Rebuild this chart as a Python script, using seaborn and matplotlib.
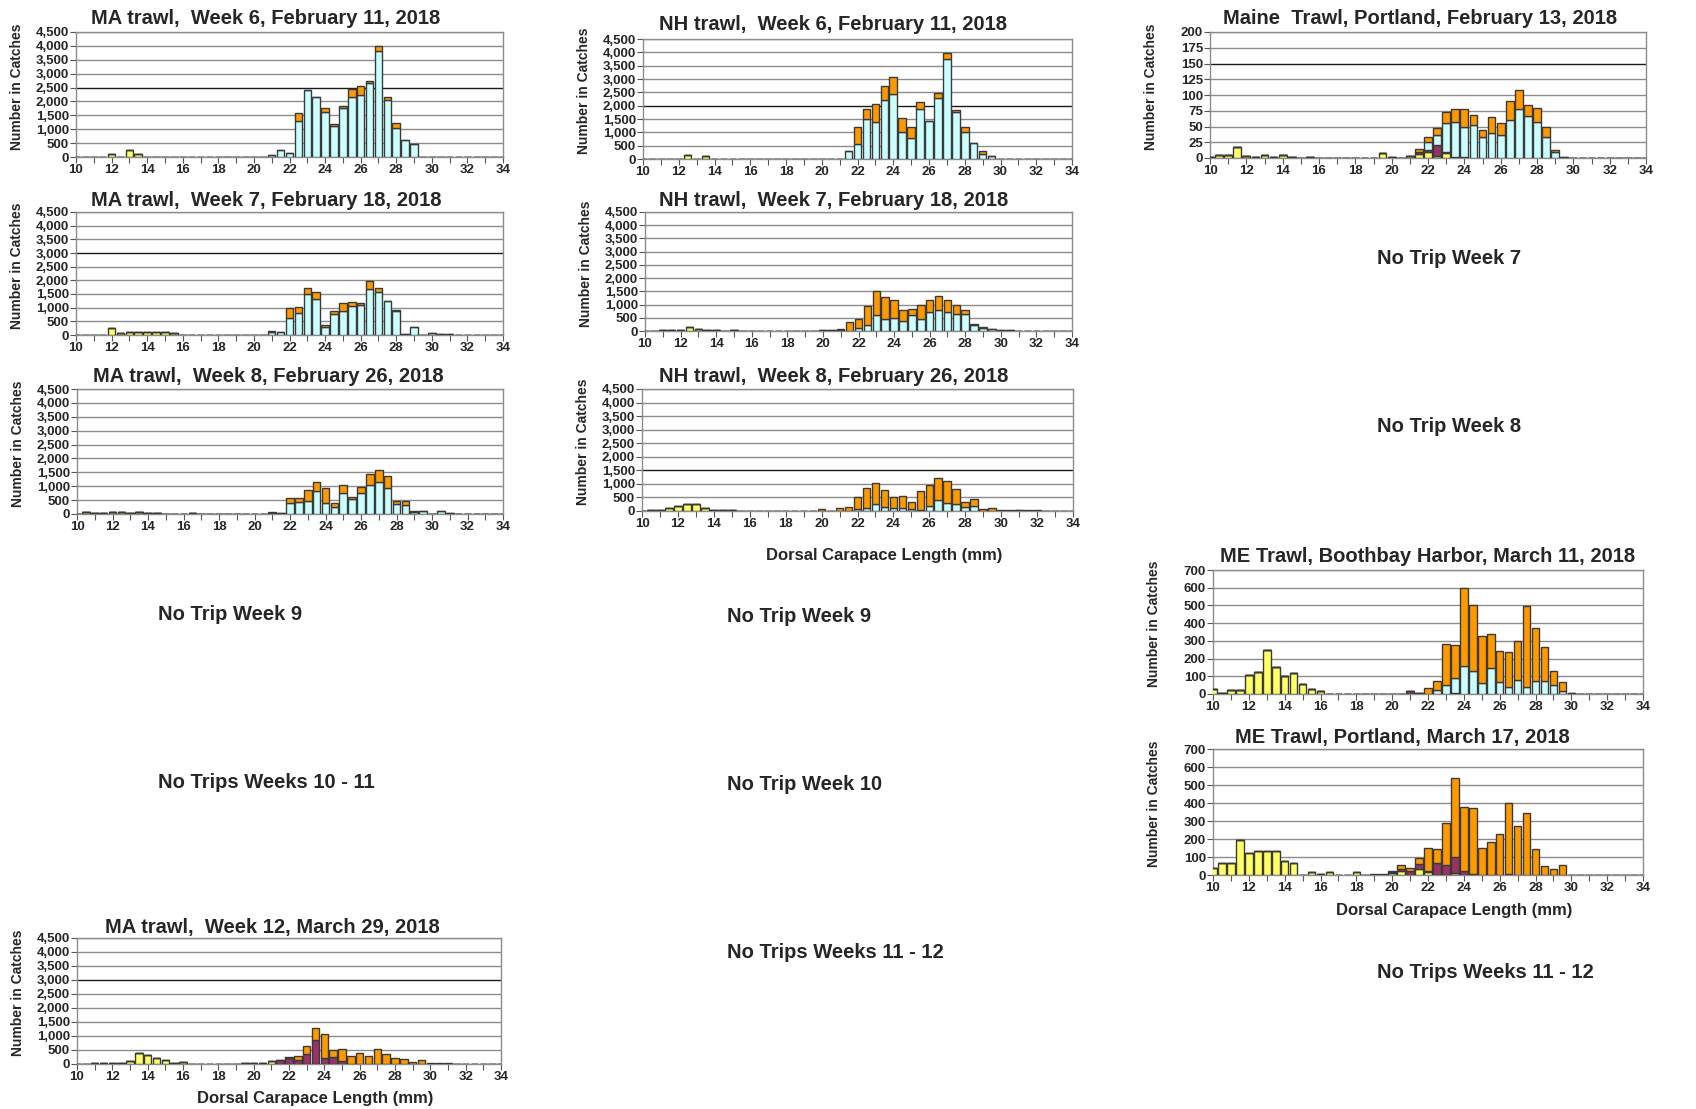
import numpy as np
import pandas as pd
import matplotlib
matplotlib.use("Agg")
import matplotlib.pyplot as plt
import seaborn as sns
from matplotlib.ticker import MultipleLocator, FuncFormatter

sns.set_theme(style="white")
plt.rcParams['font.family'] = ['Liberation Sans', 'DejaVu Sans']
plt.rcParams['font.weight'] = 'bold'

# ---------------- data: length bins (mm) ----------------
lengths = [10, 10.5, 11, 11.5, 12, 12.5, 13, 13.5, 14, 14.5,
           15, 15.5, 16, 16.5, 17, 17.5, 18, 18.5, 19, 19.5,
           20, 20.5, 21, 21.5, 22, 22.5, 23, 23.5, 24, 24.5,
           25, 25.5, 26, 26.5, 27, 27.5, 28, 28.5, 29, 29.5,
           30, 30.5, 31, 31.5, 32, 32.5, 33, 33.5, 34]

Z10 = [0] * 10
Z9 = [0] * 9

# MA trawl week 6
ma6_juv = [0, 0, 0, 0, 100, 0, 270, 100, 0, 0] + Z10 + Z10 + Z10 + Z9
ma6_trans = Z10 + Z10 + Z10 + Z10 + Z9
ma6_male = Z10 + Z10 + [0, 0, 80, 270, 150, 1300, 2400, 2150, 1620, 1130] + \
    [1760, 2150, 2250, 2650, 3800, 2050, 1050, 620, 470, 0] + Z9
ma6_fem = Z10 + Z10 + [0, 0, 0, 0, 0, 300, 0, 0, 130, 40] + \
    [90, 300, 300, 100, 200, 100, 180, 0, 0, 0] + Z9

# NH trawl week 6
nh6_juv = [0, 0, 0, 0, 0, 150, 0, 100, 0, 0] + Z10 + Z10 + Z10 + Z9
nh6_trans = Z10 + Z10 + Z10 + Z10 + Z9
nh6_male = Z10 + Z10 + [0, 0, 0, 290, 550, 1500, 1400, 2220, 2450, 1000] + \
    [780, 1880, 1420, 2300, 3750, 1750, 1000, 600, 200, 100] + Z9
nh6_fem = Z10 + Z10 + [0, 0, 0, 0, 650, 380, 670, 530, 630, 520] + \
    [420, 270, 0, 180, 230, 80, 200, 0, 100, 0] + Z9

# Maine trawl Portland Feb 13
mep_juv = [2, 5, 4, 18, 3, 2, 5, 2, 5, 2] + [0, 1, 0, 0, 0, 0, 0, 0, 0, 8] + \
    [0, 0, 3, 7, 10, 3, 8, 0, 0, 0] + Z10 + Z9
mep_trans = Z10 + Z10 + [2, 0, 0, 2, 3, 17, 2, 1, 2, 0] + Z10 + Z9
mep_male = Z10 + Z10 + [0, 0, 0, 0, 12, 17, 45, 56, 48, 53] + \
    [33, 40, 37, 60, 77, 67, 57, 33, 10, 1] + Z9
mep_fem = Z10 + Z10 + [0, 0, 0, 6, 8, 11, 18, 20, 27, 15] + \
    [12, 25, 18, 30, 31, 17, 22, 17, 2, 0] + Z9

# MA trawl week 7
ma7_juv = [0, 0, 0, 0, 270, 80, 110, 110, 110, 110] + \
    [110, 80, 0, 0, 0, 0, 0, 0, 0, 0] + Z10 + Z10 + Z9
ma7_trans = Z10 + Z10 + Z10 + Z10 + Z9
ma7_male = Z10 + Z10 + [0, 0, 100, 100, 620, 800, 1500, 1300, 300, 770] + \
    [870, 1050, 1080, 1680, 1580, 1230, 870, 30, 280, 0] + \
    [90, 30, 30, 0, 0, 0, 0, 0, 0]
ma7_fem = Z10 + Z10 + [0, 0, 30, 0, 360, 230, 220, 280, 60, 90] + \
    [300, 170, 90, 300, 140, 30, 30, 0, 30, 0] + Z9

# NH trawl week 7
nh7_juv = [0, 0, 30, 30, 30, 150, 90, 30, 30, 0] + \
    [30, 0, 0, 0, 0, 0, 0, 0, 0, 0] + Z10 + Z10 + Z9
nh7_trans = Z10 + Z10 + Z10 + Z10 + Z9
nh7_male = Z10 + Z10 + [30, 30, 20, 0, 130, 220, 600, 450, 500, 380] + \
    [600, 450, 700, 800, 700, 650, 650, 220, 130, 70] + \
    [30, 30, 0, 0, 0, 0, 0, 0, 0]
nh7_fem = Z10 + Z10 + [0, 0, 60, 330, 340, 730, 900, 820, 670, 420] + \
    [230, 550, 470, 520, 470, 350, 130, 50, 40, 0] + Z9

# MA trawl week 8
ma8_juv = [0, 80, 40, 40, 80, 80, 40, 80, 40, 40] + \
    [0, 0, 0, 30, 0, 0, 0, 0, 0, 0] + Z10 + Z10 + Z9
ma8_trans = Z10 + Z10 + [0, 0, 40, 0, 0, 0, 0, 0, 0, 0] + Z10 + Z9
ma8_male = Z10 + Z10 + [0, 0, 0, 30, 400, 450, 480, 830, 400, 250] + \
    [750, 550, 750, 1050, 1150, 950, 370, 320, 80, 100] + \
    [0, 100, 40, 0, 0, 0, 0, 0, 0]
ma8_fem = Z10 + Z10 + [0, 0, 40, 0, 180, 130, 400, 340, 520, 150] + \
    [300, 70, 220, 400, 450, 420, 100, 150, 40, 0] + Z9

# NH trawl week 8
nh8_juv = [0, 50, 50, 100, 200, 250, 250, 100, 50, 50] + \
    [50, 0, 0, 0, 0, 0, 0, 0, 0, 0] + Z10 + Z10 + Z9
nh8_trans = Z10 + Z10 + Z10 + Z10 + Z9
nh8_male = Z10 + Z10 + [0, 0, 0, 0, 80, 100, 250, 150, 100, 120] + \
    [80, 50, 200, 400, 300, 250, 150, 200, 0, 0] + \
    [0, 0, 50, 0, 0, 0, 0, 0, 0]
nh8_fem = Z10 + Z10 + [60, 0, 100, 150, 420, 760, 790, 620, 430, 420] + \
    [270, 670, 750, 820, 790, 560, 200, 250, 60, 100] + \
    [50, 50, 0, 50, 50, 0, 0, 0, 0]

# ME trawl Boothbay Harbor March 11
meb_juv = [30, 5, 20, 20, 110, 125, 250, 155, 100, 120] + \
    [55, 30, 15, 0, 0, 0, 0, 0, 0, 0] + Z10 + Z10 + Z9
meb_trans = Z10 + Z10 + [0, 0, 15, 5, 0, 0, 0, 5, 0, 0] + Z10 + Z9
meb_male = Z10 + Z10 + [0, 0, 0, 0, 0, 20, 50, 85, 160, 130] + \
    [60, 145, 70, 40, 80, 40, 75, 75, 50, 15] + \
    [5, 0, 0, 0, 0, 0, 0, 0, 0]
meb_fem = Z10 + Z10 + [0, 0, 0, 0, 35, 55, 235, 185, 440, 370] + \
    [265, 195, 175, 195, 220, 455, 295, 190, 80, 55] + Z9

# ME trawl Portland March 17
mep2_juv = [40, 65, 65, 195, 125, 135, 135, 135, 80, 65] + \
    [0, 15, 8, 15, 0, 0, 15, 0, 0, 0] + \
    [12, 20, 0, 35, 15, 0, 0, 10, 0, 0] + Z10 + Z9
mep2_trans = Z10 + Z10 + [5, 15, 20, 25, 5, 65, 55, 90, 20, 5] + \
    [0, 0, 0, 5, 0, 0, 0, 0, 0, 0] + Z9
mep2_male = Z10 + Z10 + Z10 + Z10 + Z9
mep2_fem = Z10 + [0, 0, 0, 0, 0, 0, 0, 0, 5, 5] + \
    [5, 20, 20, 35, 130, 80, 235, 440, 360, 365] + \
    [150, 185, 230, 395, 270, 345, 145, 50, 35, 55] + Z9

# MA trawl week 12
ma12_juv = [0, 0, 30, 30, 30, 30, 110, 380, 330, 200] + \
    [150, 40, 70, 0, 0, 0, 0, 0, 0, 30] + \
    [30, 30, 100, 0, 0, 0, 0, 0, 0, 0] + Z10 + Z9
ma12_trans = Z10 + Z10 + [0, 0, 0, 150, 200, 150, 370, 850, 200, 250] + \
    [120, 0, 0, 0, 0, 0, 0, 0, 0, 0] + Z9
ma12_male = Z10 + Z10 + Z10 + Z10 + Z9
ma12_fem = Z10 + Z10 + [0, 0, 0, 0, 50, 140, 270, 450, 880, 250] + \
    [430, 300, 410, 300, 550, 370, 200, 170, 80, 160] + \
    [40, 40, 40, 0, 0, 0, 0, 0, 0]

groups = ["juv", "trans", "male", "fem"]
colors = {"juv": "#FFFF66", "trans": "#993366", "male": "#CCFFFF", "fem": "#FF9900"}

# ---------------- layout ----------------
W, H = 1696, 1109
fig = plt.figure(figsize=(W / 100, H / 100), dpi=100)
fig.patch.set_facecolor("white")

panels = [
    # title, series, box (l, t, r, b) px, ymax, ystep, title centre (x, y), dark grid
    ("MA trawl,  Week 6, February 11, 2018", (ma6_juv, ma6_trans, ma6_male, ma6_fem),
     (76, 32, 503, 157), 4500, 500, (266, 18), 2500),
    ("NH trawl,  Week 6, February 11, 2018", (nh6_juv, nh6_trans, nh6_male, nh6_fem),
     (643, 39, 1072, 159), 4500, 500, (833, 25), 2000),
    ("Maine  Trawl, Portland, February 13, 2018", (mep_juv, mep_trans, mep_male, mep_fem),
     (1210, 32, 1646, 158), 200, 25, (1420, 18), 150),
    ("MA trawl,  Week 7, February 18, 2018", (ma7_juv, ma7_trans, ma7_male, ma7_fem),
     (76, 212, 503, 335), 4500, 500, (266, 200), 3000),
    ("NH trawl,  Week 7, February 18, 2018", (nh7_juv, nh7_trans, nh7_male, nh7_fem),
     (645, 212, 1072, 331), 4500, 500, (834, 200), None),
    ("MA trawl,  Week 8, February 26, 2018", (ma8_juv, ma8_trans, ma8_male, ma8_fem),
     (77, 389, 503, 514), 4500, 500, (268, 377), None),
    ("NH trawl,  Week 8, February 26, 2018", (nh8_juv, nh8_trans, nh8_male, nh8_fem),
     (642, 389, 1073, 511), 4500, 500, (834, 377), 1500),
    ("ME Trawl, Boothbay Harbor, March 11, 2018", (meb_juv, meb_trans, meb_male, meb_fem),
     (1213, 570, 1643, 694), 700, 100, (1428, 557), None),
    ("ME Trawl, Portland, March 17, 2018", (mep2_juv, mep2_trans, mep2_male, mep2_fem),
     (1213, 749, 1643, 875), 700, 100, (1402, 737), None),
    ("MA trawl,  Week 12, March 29, 2018", (ma12_juv, ma12_trans, ma12_male, ma12_fem),
     (77, 938, 501, 1064), 4500, 500, (272, 927), 3000),
]

edges = [e / 100 for e in range(975, 3451, 50)]
fmt = FuncFormatter(lambda v, p: f"{int(v):,}")

for title, series, (l, t, r, b), ymax, ystep, (tx, ty), dark in panels:
    ax = fig.add_axes([l / W, 1 - b / H, (r - l) / W, (b - t) / H])
    rows = []
    for g, vals in zip(groups, series):
        for x, v in zip(lengths, vals):
            if v > 0:
                rows.append({"length": x, "group": g, "count": v})
    df = pd.DataFrame(rows)
    present = [g for g in ["fem", "male", "trans", "juv"] if g in set(df["group"])]
    sns.histplot(data=df, x="length", weights="count", hue="group",
                 hue_order=present, palette=colors, bins=edges,
                 multiple="stack", shrink=0.85, alpha=1, legend=False,
                 edgecolor="#3a3a3a", linewidth=1.0, ax=ax, zorder=3)
    ax.set_xlim(10, 34)
    ax.set_ylim(0, ymax)
    ax.yaxis.set_major_locator(MultipleLocator(ystep))
    ax.yaxis.set_major_formatter(fmt)
    ax.xaxis.set_major_locator(MultipleLocator(2))
    ax.xaxis.set_minor_locator(MultipleLocator(1))
    ax.set_xlabel("")
    ax.set_ylabel("")
    ax.grid(False)
    for yv in np.arange(ystep, ymax + 1, ystep):
        ax.axhline(yv, color="#1a1a1a" if dark == yv else "#8c8c8c", lw=1.0, zorder=1)
    for s in ax.spines.values():
        s.set_color("#8c8c8c")
        s.set_linewidth(1.0)
    ax.tick_params(axis="both", which="both", direction="out", length=4,
                   color="#555555", width=0.8, bottom=True, left=True)
    ax.tick_params(axis="both", which="major", labelsize=9.5, pad=1)
    for lab in ax.get_xticklabels() + ax.get_yticklabels():
        lab.set_fontweight("bold")
    fig.text(tx / W, 1 - ty / H, title, ha="center", va="center",
             fontsize=14.5, fontweight="bold")
    fig.text((l - 59) / W, 1 - ((t + b) / 2 - 8) / H, "Number in Catches",
             rotation=90, ha="center", va="center", fontsize=10, fontweight="bold")

# x-axis titles
for (x, y) in [(884, 555), (1454, 910), (315, 1099)]:
    fig.text(x / W, 1 - y / H, "Dorsal Carapace Length (mm)", ha="center",
             va="center", fontsize=12, fontweight="bold")

# "No trip" notes
notes = [
    ("No Trip Week 9", 230, 614),
    ("No Trips Weeks 10 - 11", 266, 783),
    ("No Trip Week 9", 799, 617),
    ("No Trip Week 10", 805, 784),
    ("No Trips Weeks 11 - 12", 835, 952),
    ("No Trip Week 7", 1449, 258),
    ("No Trip Week 8", 1449, 427),
    ("No Trips Weeks 11 - 12", 1485, 972),
]
for txt, x, y in notes:
    fig.text(x / W, 1 - y / H, txt, ha="center", va="center",
             fontsize=14.5, fontweight="bold")

fig.savefig("out.png", dpi=100, facecolor="white")
